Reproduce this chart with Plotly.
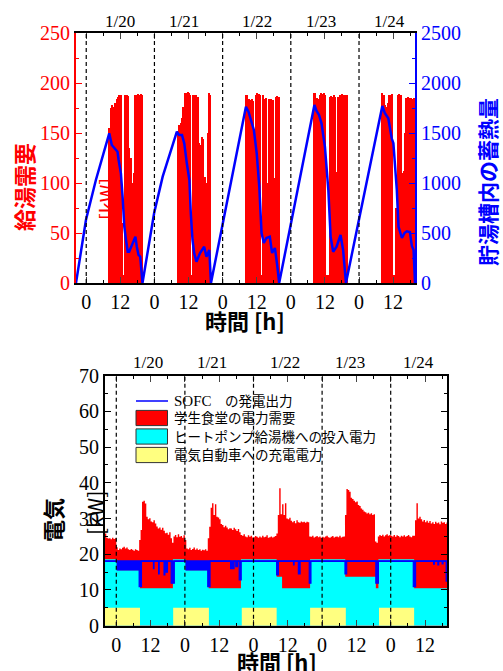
import plotly.graph_objects as go

W, H = 503, 671

# ================= TOP CHART DATA =================
# hot-water demand [kW], half-hour bins starting at 08:00 local time each day
hw_first_bin_hour = 8.0
hw_bin_hours = 0.5
hot_water_demand_0120 = [155, 175, 178, 176, 180, 184, 186, 188, 188, 60, 8, 188, 188, 187,
                         135, 125, 100, 110, 188, 188, 189, 188, 189, 188]
hot_water_demand_0121 = [152, 158, 160, 165, 176, 190, 190, 191, 190, 188, 8, 188, 188, 188,
                         186, 140, 138, 146, 144, 106, 100, 150, 190, 188]
hot_water_demand_0122 = [188, 188, 184, 183, 184, 182, 143, 188, 190, 189, 188, 8, 188, 184,
                         185, 100, 184, 183, 184, 183, 105, 186, 187, 186]
hot_water_demand_0123 = [190, 190, 185, 184, 188, 190, 189, 190, 188, 8, 8, 186, 187, 186,
                         188, 186, 111, 186, 188, 188, 189, 188, 188, 188]
hot_water_demand_0124 = [190, 188, 178, 176, 180, 188, 188, 189, 8, 8, 75, 188, 189, 188,
                         110, 112, 150, 185, 186, 185, 185, 184, 185, 185]
hot_water_days = [hot_water_demand_0120, hot_water_demand_0121, hot_water_demand_0122,
                  hot_water_demand_0123, hot_water_demand_0124]

# stored heat in tank [kWh] (hours from 1/20 00:00)
heat_hours = [-3.6, -1.9, -0.1, 3.4, 8.1,
              9.0, 9.9, 11.0, 11.4, 12.2, 12.8, 13.4, 14.0, 14.6, 15.1, 16.3, 17.3, 17.8, 18.4, 19.0, 19.8,
              23.9, 26.9, 31.9,
              32.7, 33.7, 34.5, 35.4, 36.3, 36.8, 37.4, 38.0, 38.8, 40.0, 41.5, 42.3, 43.3, 43.9,
              48.0, 56.2,
              57.1, 58.2, 59.0, 60.0, 60.9, 61.7, 62.5, 63.4, 64.6, 65.4, 66.4, 67.2, 67.9,
              80.3,
              81.1, 81.9, 82.8, 84.0, 85.2, 86.0, 86.9, 88.1, 89.5, 90.4, 91.4,
              104.2,
              105.1, 106.3, 107.5, 108.1, 109.3, 109.9, 111.1, 112.0, 112.8, 113.9, 114.6, 115.2, 115.7]
heat_kwh = [0, 330, 630, 1030, 1497,
            1380, 1347, 1313, 1230, 1097, 863, 563, 430, 313, 313, 397, 463, 363, 280, 263, 0,
            700, 1063, 1513,
            1480, 1480, 1397, 1197, 1030, 697, 430, 297, 213, 297, 363, 263, 330, 0,
            586, 1763,
            1713, 1613, 1530, 1297, 963, 500, 400, 450, 463, 300, 350, 180, 0,
            1780,
            1717, 1683, 1597, 1363, 930, 463, 313, 363, 480, 330, 0,
            1770,
            1697, 1647, 1447, 1397, 930, 563, 450, 500, 517, 510, 370, 330, 0]

# ================= BOTTOM CHART DATA =================
elec_first_hour = -4.0
elec_step_hours = 0.5
elec_last_hour = 116.0
# cafeteria total electric demand [kW], half-hour steps
elec_demand_0119 = [25.8, 24.6, 24.4, 24.5, 24.2, 24.6, 24.3, 24.5]
elec_demand_0120 = [22.0, 21.2, 21.6, 21.4, 21.8, 22.1, 21.6, 21.9, 21.4, 21.2, 21.5, 21.3, 21.0, 21.4, 21.2, 21.0,
                    24.0, 26.8, 34.7, 35.0, 34.2, 30.5, 29.8, 30.1, 29.2, 29.0, 29.5, 28.6, 27.8, 27.2, 27.5, 26.9,
                    27.4, 26.6, 25.9, 26.0, 25.5, 26.2, 24.5, 23.2,
                    25.0, 25.4, 24.8, 25.6, 24.9, 25.1, 24.6, 25.3]
elec_demand_0121 = [24.0, 21.6, 21.4, 21.8, 21.2, 21.5, 21.9, 21.3, 21.6, 21.2, 21.4, 21.0, 21.3, 21.1, 21.4, 21.0,
                    24.5, 27.7, 33.0, 34.3, 31.0, 34.0, 30.5, 30.3, 29.8, 28.5, 28.2, 27.6, 28.0, 27.5, 27.0, 27.3,
                    27.2, 26.8, 27.4, 27.0, 26.5, 27.1, 26.2, 25.4,
                    25.2, 25.6, 25.0, 24.8, 25.3, 24.9, 25.2, 24.7]
elec_demand_0122 = [24.8, 25.1, 24.9, 24.6, 25.0, 24.7, 25.2, 24.8, 24.9, 25.3, 24.6, 24.8, 25.0, 24.7, 24.9, 25.1,
                    25.8, 31.0, 38.5, 31.2, 34.0, 31.0, 34.3, 30.0, 29.8, 30.2, 29.4, 29.0, 29.3, 28.7, 29.5, 29.0,
                    28.8, 29.2, 29.0, 29.1, 28.8, 29.1, 29.0, 25.0,
                    24.9, 25.2, 24.7, 24.9, 25.1, 24.8, 25.0, 24.6]
elec_demand_0123 = [24.9, 24.7, 25.0, 25.2, 24.8, 24.6, 24.9, 25.1, 24.7, 24.9, 25.0, 24.8, 25.2, 24.7, 24.9, 25.0,
                    31.0, 38.3, 38.0, 37.5, 35.8, 35.5, 35.0, 34.6, 34.8, 33.8, 33.5, 32.8, 32.5, 32.0, 31.8, 31.4,
                    31.6, 31.2, 31.5, 31.0, 31.2, 23.6, 23.2, 25.0,
                    25.4, 25.1, 25.5, 25.0, 25.3, 25.6, 25.2, 25.4]
elec_demand_0124 = [25.2, 25.0, 25.4, 24.9, 25.3, 25.1, 24.8, 25.2, 25.0, 25.3, 24.9, 25.1, 25.4, 25.0, 24.8, 25.2,
                    25.2, 29.5, 34.3, 30.0, 30.5, 29.8, 29.2, 29.6, 29.0, 29.4, 28.8, 29.3, 28.6, 29.0, 28.5, 29.1,
                    28.7, 28.9, 28.4, 29.2, 28.8, 29.0, 28.5, 28.9]

# heat pump input (+ EV) level [kW], piecewise constant
hp_change_hours = [-4.0, 0.3, 8.3, 19.8, 24.3, 32.3, 43.6, 56.1, 58.0, 67.8, 80.1, 90.8, 91.7, 104.2, 116.0]
hp_level_kw = [18.6, 15.5, 10.5, 18.6, 15.5, 10.5, 18.6, 13.7, 10.5, 18.6, 13.7, 10.5, 18.6, 10.5]

# EV charging [kW], piecewise constant
ev_change_hours = [-4.0, 8.3, 19.9, 32.4, 43.9, 56.1, 67.8, 80.3, 91.9, 104.2, 116.0]
ev_level_kw = [5, 0, 5, 0, 5, 0, 5, 0, 5, 0]

# SOFC output [kW]: nominal level and dips
sofc_nominal_kw = 18.1
sofc_dip_start = [0.3, 8.0, 13.0, 14.8, 16.7, 17.3, 19.2, 24.4, 32.0, 40.0, 41.8, 43.0,
                  56.1, 62.0, 63.7, 67.5, 80.0, 90.8, 103.9, 111.0, 112.5, 114.0, 115.4]
sofc_dip_end = [8.0, 8.8, 13.2, 15.0, 17.0, 17.9, 20.3, 32.0, 32.8, 41.2, 42.4, 43.7,
                56.7, 62.2, 64.3, 68.1, 80.6, 91.7, 104.7, 111.3, 112.8, 114.3, 116.0]
sofc_dip_min_kw = [15.6, 10.9, 16.0, 14.5, 14.2, 15.0, 11.9, 15.6, 10.9, 16.0, 16.5, 12.8,
                   14.2, 17.0, 14.5, 11.9, 14.5, 11.9, 10.9, 17.2, 17.0, 17.3, 12.5]

day_start_hours = [0, 24, 48, 72, 96]
date_labels = ["1/20", "1/21", "1/22", "1/23", "1/24"]
tick_hours = [0, 12, 24, 36, 48, 60, 72, 84, 96, 108]
tick_labels = ["0", "12", "0", "12", "0", "12", "0", "12", "0", "12"]

# ================= BUILD =================
SERIF = "Liberation Serif"
JP = "Noto Sans CJK JP"
MIX = "Liberation Serif, Noto Sans CJK JP"

def px_x(p):
    return p / W

def px_y(p):
    return 1 - p / H

fig = go.Figure()

# --- top: hot water demand bars + stored heat line
bar_x, bar_y = [], []
for d0, vals in zip(day_start_hours, hot_water_days):
    for i, v in enumerate(vals):
        bar_x.append(d0 + hw_first_bin_hour + hw_bin_hours * (i + 0.5))
        bar_y.append(v)
fig.add_trace(go.Bar(x=bar_x, y=bar_y, width=hw_bin_hours, marker=dict(color="#ff0000", line=dict(width=0)),
                     xaxis="x", yaxis="y", showlegend=False))
fig.add_trace(go.Scatter(x=heat_hours, y=heat_kwh, mode="lines", line=dict(color="#0000ff", width=2.5),
                         xaxis="x", yaxis="y2", showlegend=False))

# --- bottom: layered areas
demand = elec_demand_0119 + elec_demand_0120 + elec_demand_0121 + elec_demand_0122 + elec_demand_0123 + elec_demand_0124
dem_x = [elec_first_hour + elec_step_hours * i for i in range(len(demand))] + [elec_last_hour]
dem_y = demand + [demand[-1]]
fig.add_trace(go.Scatter(x=dem_x, y=dem_y, mode="lines", line=dict(width=0, shape="hv"), fill="tozeroy",
                         fillcolor="#ff0000", xaxis="x2", yaxis="y3", showlegend=False))

def step_xy(change_hours, levels):
    return list(change_hours), list(levels) + [levels[-1]]

hx, hy = step_xy(hp_change_hours, hp_level_kw)
fig.add_trace(go.Scatter(x=hx, y=hy, mode="lines", line=dict(width=0, shape="hv"), fill="tozeroy",
                         fillcolor="#00ffff", xaxis="x2", yaxis="y3", showlegend=False))
ex, ey = step_xy(ev_change_hours, ev_level_kw)
fig.add_trace(go.Scatter(x=ex, y=ey, mode="lines", line=dict(width=0, shape="hv"), fill="tozeroy",
                         fillcolor="#ffff80", xaxis="x2", yaxis="y3", showlegend=False))

sofc_x = [elec_first_hour]
sofc_y = [sofc_nominal_kw]
for s, e, m in zip(sofc_dip_start, sofc_dip_end, sofc_dip_min_kw):
    sofc_x += [s, e]
    sofc_y += [m, sofc_nominal_kw]
sofc_x.append(elec_last_hour)
sofc_y.append(sofc_nominal_kw)
fig.add_trace(go.Scatter(x=[elec_first_hour, elec_last_hour], y=[sofc_nominal_kw, sofc_nominal_kw], mode="lines",
                         line=dict(color="#0000ff", width=1.8), xaxis="x2", yaxis="y3", showlegend=False))
fig.add_trace(go.Scatter(x=sofc_x, y=sofc_y, mode="lines", line=dict(color="#0000ff", width=1.2, shape="hv"),
                         fill="tonexty", fillcolor="#0000ff", xaxis="x2", yaxis="y3", showlegend=False))

# ================= LAYOUT =================
tick_font = dict(family=SERIF, size=20, color="black")
common_x = dict(tickvals=tick_hours, ticktext=tick_labels, ticks="inside", ticklen=6, tickwidth=1,
                showline=True, linewidth=2, linecolor="black", mirror="ticks", showgrid=False, zeroline=False,
                tickfont=tick_font, automargin=False,
                minor=dict(ticks="inside", dtick=6, tick0=0, ticklen=3, tickcolor="black"))

fig.update_layout(
    width=W, height=H, margin=dict(l=0, r=0, t=0, b=0, pad=0, autoexpand=False),
    paper_bgcolor="white", plot_bgcolor="white", bargap=0, showlegend=False,
    xaxis=dict(domain=[px_x(76), px_x(415)], range=[-3.6, 115.7], anchor="y", **common_x),
    yaxis=dict(domain=[px_y(283), px_y(33)], range=[0, 250], dtick=50, anchor="x", ticks="inside", ticklen=6,
               tickcolor="#ff0000", showline=True, linewidth=2, linecolor="#ff0000", showgrid=False, zeroline=False,
               tickfont=dict(family=SERIF, size=20, color="#ff0000"), automargin=False,
               minor=dict(ticks="inside", dtick=25, ticklen=3, tickcolor="#ff0000")),
    yaxis2=dict(range=[0, 2500], dtick=500, overlaying="y", side="right", anchor="x", ticks="inside", ticklen=6,
                tickcolor="#0000ff", showline=True, linewidth=2, linecolor="#0000ff", showgrid=False, zeroline=False,
                tickfont=dict(family=SERIF, size=20, color="#0000ff"), automargin=False,
                minor=dict(ticks="inside", dtick=250, ticklen=3, tickcolor="#0000ff")),
    xaxis2=dict(domain=[px_x(105), px_x(447.3)], range=[-3.95, 115.8], anchor="y3", **common_x),
    yaxis3=dict(domain=[px_y(625.7), px_y(375.7)], range=[0, 70], dtick=10, anchor="x2", ticks="inside",
                ticklen=6, tickcolor="black", showline=True, linewidth=2, linecolor="black", mirror="ticks",
                showgrid=False, zeroline=False, tickfont=tick_font, automargin=False,
                minor=dict(ticks="inside", dtick=5, ticklen=3, tickcolor="black")),
)

shapes = []
for d0 in day_start_hours:
    shapes.append(dict(type="line", xref="x", yref="y domain", x0=d0, x1=d0, y0=0, y1=1,
                       line=dict(color="black", width=1.2, dash="4px,3px"), layer="above"))
    shapes.append(dict(type="line", xref="x2", yref="y3 domain", x0=d0, x1=d0, y0=0, y1=1,
                       line=dict(color="black", width=1.2, dash="4px,3px"), layer="above"))

# legend (bottom chart)
legend_items = [("<span style='font-size:15px'>SOFC</span>\u3000の発電出力", None, 401),
                ("学生食堂の電力需要", "#ff0000", 418),
                ("ヒートポンプ給湯機への投入電力", "#00ffff", 436.5),
                ("電気自動車への充電電力", "#ffff80", 455)]
annotations = []
for text, color, yc in legend_items:
    if color is None:
        shapes.append(dict(type="line", xref="paper", yref="paper", x0=px_x(136), x1=px_x(168),
                           y0=px_y(yc), y1=px_y(yc), line=dict(color="#0000ff", width=1.5), layer="above"))
    else:
        shapes.append(dict(type="rect", xref="paper", yref="paper", x0=px_x(136), x1=px_x(167.5),
                           y0=px_y(yc - 7.6), y1=px_y(yc + 7.6), fillcolor=color,
                           line=dict(color="#333333", width=1), layer="above"))
    annotations.append(dict(text=text, xref="paper", yref="paper", x=px_x(171.5), y=px_y(yc),
                            xanchor="left", yanchor="middle", showarrow=False,
                            font=dict(family=MIX, size=13.5, color="black")))

# date labels
top_date_hours = [12.0, 34.4, 60.2, 82.6, 106.7]
bot_date_hours = [11.2, 33.4, 59.0, 81.6, 105.7]
for lab, xt, xb in zip(date_labels, top_date_hours, bot_date_hours):
    annotations.append(dict(text=lab, xref="x", yref="paper", x=xt, y=px_y(21.5), showarrow=False,
                            xanchor="center", yanchor="middle", font=dict(family=SERIF, size=17, color="black")))
    annotations.append(dict(text=lab, xref="x2", yref="paper", x=xb, y=px_y(362.5), showarrow=False,
                            xanchor="center", yanchor="middle", font=dict(family=SERIF, size=17, color="black")))

def title(text, xc, yc, color, size, angle=0, family=JP, weight="bold"):
    annotations.append(dict(text=text, xref="paper", yref="paper", x=px_x(xc), y=px_y(yc), showarrow=False,
                            xanchor="center", yanchor="middle", textangle=angle,
                            font=dict(family=family, size=size, color=color, weight=weight)))

title("時間 [h]", 245, 320, "black", 22)
title("時間 [h]", 277, 661, "black", 22)
title("給湯需要", 23, 187, "#ff0000", 22, -90)
title("[kW]", 107, 199, "#ff0000", 20, -90, weight="normal")
title("貯湯槽内の蓄熱量", 487, 182, "#0000ff", 21, -90)
title("電気", 52, 520, "black", 22, -90)
title("[kW]", 95, 513, "black", 21, -90, weight="normal")

fig.update_layout(shapes=shapes, annotations=annotations)
fig.write_html("out.html", config={"displayModeBar": False},
               post_script="document.body.style.margin='0';document.body.style.overflow='hidden';")
